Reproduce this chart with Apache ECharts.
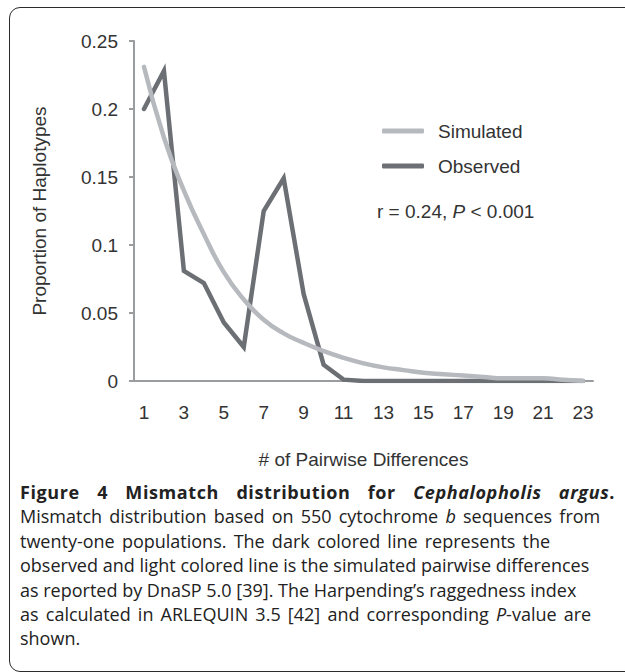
<!DOCTYPE html>
<html>
<head>
<meta charset="utf-8">
<script src="https://cdn.jsdelivr.net/npm/echarts@6/dist/echarts.min.js"></script>
<style>
  html, body { margin: 0; padding: 0; background: #fff; }
  .page { position: relative; width: 625px; height: 672px; overflow: hidden; }
  .frame {
    position: absolute; left: 9px; top: 7px; width: 660px; height: 665px;
    border: 1.5px solid #2b2b2b; border-radius: 11px; box-sizing: border-box;
  }
  #chart { position: absolute; left: 0; top: 0; width: 625px; height: 672px; }
  .caption {
    position: absolute; left: 20px; top: 480px; width: 595px;
    font-family: "Open Sans", sans-serif; font-size: 18px; line-height: 24.4px; color: #222;
  }
  .caption div { white-space: nowrap; }
  .caption .title { font-weight: bold; letter-spacing: 0.6px; text-align: justify; text-align-last: justify; }
  .caption .wide { word-spacing: 2.5px; }
</style>
</head>
<body>
<div class="page">
  <div id="chart"></div>
  <div class="frame"></div>
  <div class="caption">
    <div class="title">Figure 4 Mismatch distribution for <i>Cephalopholis argus</i>.</div>
    <div class="wide">Mismatch distribution based on 550 cytochrome <i>b</i> sequences from</div>
    <div class="wide">twenty-one populations. The dark colored line represents the</div>
    <div>observed and light colored line is the simulated pairwise differences</div>
    <div>as reported by DnaSP 5.0 [39]. The Harpending’s raggedness index</div>
    <div class="wide">as calculated in ARLEQUIN 3.5 [42] and corresponding <i>P</i>-value are</div>
    <div>shown.</div>
  </div>
</div>
<script>
// # of pairwise differences
const categories = ['1', '2', '3', '4', '5', '6', '7', '8', '9', '10', '11', '12',
  '13', '14', '15', '16', '17', '18', '19', '20', '21', '22', '23']

// proportion of haplotypes
const observed = [0.200, 0.228, 0.081, 0.072, 0.043, 0.025, 0.125, 0.149, 0.064, 0.012, 0.001, 0,
  0, 0, 0, 0, 0, 0, 0, 0, 0, 0, 0]
const simulated = [0.231, 0.179, 0.140, 0.108, 0.080, 0.060, 0.045, 0.035, 0.028, 0.022, 0.017, 0.013,
  0.010, 0.008, 0.006, 0.005, 0.004, 0.003, 0.002, 0.002, 0.002, 0.001, 0.000]

const axisColor = '#9a9da0'
const textColor = '#333'
const font = 'Liberation Sans, Arial, sans-serif'
const fs = 19

const chart = echarts.init(document.getElementById('chart'), null, { renderer: 'svg' })

const option = {
  animation: false,
  grid: { left: 134, right: 32, top: 41, bottom: 291 },
  legend: {
    data: ['Simulated', 'Observed'],
    orient: 'vertical',
    left: 377,
    top: 116,
    itemWidth: 42,
    itemHeight: 5,
    itemGap: 15,
    icon: 'roundRect',
    textStyle: { fontFamily: font, fontSize: fs, color: textColor, lineHeight: 20, padding: [0, 0, 0, 9] }
  },
  xAxis: {
    type: 'category',
    data: categories,
    boundaryGap: true,
    name: '# of Pairwise Differences',
    nameLocation: 'middle',
    nameGap: 69,
    nameTextStyle: { fontFamily: font, fontSize: fs, color: textColor },
    axisLine: { lineStyle: { color: axisColor, width: 2 } },
    axisTick: { interval: 0, length: 5, lineStyle: { color: axisColor, width: 2 } },
    axisLabel: { interval: 1, margin: 22, fontFamily: font, fontSize: fs, color: textColor }
  },
  yAxis: {
    type: 'value',
    min: 0,
    max: 0.25,
    interval: 0.05,
    name: 'Proportion of Haplotypes',
    nameLocation: 'middle',
    nameGap: 85,
    nameRotate: 90,
    nameTextStyle: { fontFamily: font, fontSize: fs, color: textColor },
    axisLine: { show: true, lineStyle: { color: axisColor, width: 2 } },
    axisTick: { show: true, length: 5, lineStyle: { color: axisColor, width: 2 } },
    axisLabel: { margin: 16, fontFamily: font, fontSize: fs, color: textColor },
    splitLine: { show: false }
  },
  graphic: [{
    type: 'text',
    left: 377,
    top: 202,
    style: {
      text: 'r = 0.24, {i|P} < 0.001',
      font: fs + 'px ' + font,
      fill: textColor,
      rich: { i: { fontStyle: 'italic', fontFamily: font, fontSize: fs, fill: textColor } }
    }
  }],
  series: [
    {
      name: 'Observed',
      type: 'line',
      data: observed,
      symbol: 'none',
      color: '#6c7074',
      lineStyle: { width: 4.5, color: '#6c7074', join: 'miter', cap: 'round' }
    },
    {
      name: 'Simulated',
      type: 'line',
      data: simulated,
      smooth: true,
      symbol: 'none',
      color: '#b6b9bd',
      lineStyle: { width: 4.5, color: '#b6b9bd', cap: 'round' }
    }
  ]
}

chart.setOption(option)
</script>
</body>
</html>
